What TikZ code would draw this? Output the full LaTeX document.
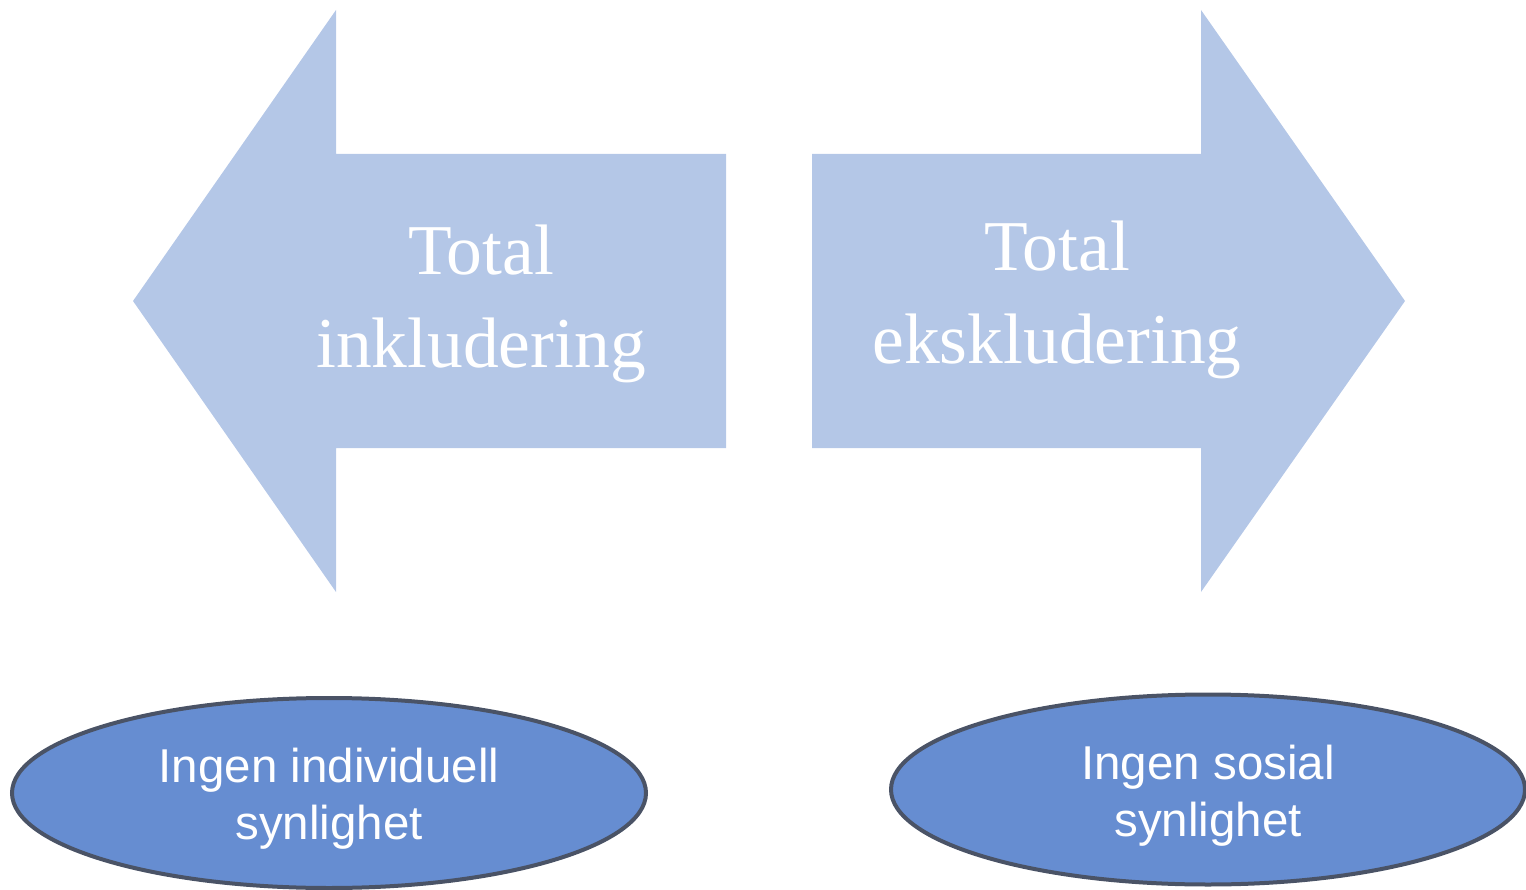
\documentclass[tikz,border=0pt]{standalone}
\usepackage{fontspec}
\setmainfont{Liberation Serif}
\newfontfamily\labelsans{Liberation Sans}
\usetikzlibrary{shapes.geometric}
\definecolor{arrowblue}{HTML}{B4C7E7}
\definecolor{ovalblue}{HTML}{668DD1}
\definecolor{ovalline}{HTML}{4A5366}
\tikzset{
  bigarrow/.style={fill=arrowblue, draw=none},
  arrowtext/.style={text=white, font=\fontsize{71.5}{93}\selectfont, align=center, inner sep=0pt},
  oval/.style={ellipse, fill=ovalblue, draw=ovalline, line width=4pt, minimum width=634pt, minimum height=190pt, inner sep=0pt,
    text=white, font=\labelsans\fontsize{47.5}{57}\selectfont, align=center, text depth=0pt}
}
\begin{document}
\begin{tikzpicture}[x=1pt,y=-1pt]
\useasboundingbox (0,0) rectangle (1526,890);
% left arrow
\draw[bigarrow] (133,301) -- (336,10) -- (336,154) -- (726,154) -- (726,448) -- (336,448) -- (336,592) -- cycle;
% right arrow
\draw[bigarrow] (1405,301) -- (1201,10) -- (1201,154) -- (812,154) -- (812,448) -- (1201,448) -- (1201,592) -- cycle;
\node[arrowtext, anchor=base] (incl) at (481,368) {Total\\inkludering};
\node[arrowtext, anchor=base] (excl) at (1057,364) {Total\\ekskludering};
\node[oval] (indiv) at (329,793) {\raisebox{-2pt}{Ingen individuell}\\\raisebox{-2pt}{synlighet}};
\node[oval] (sosial) at (1208,789.5) {\raisebox{-2pt}{Ingen sosial}\\\raisebox{-2pt}{synlighet}};
\end{tikzpicture}
\end{document}
